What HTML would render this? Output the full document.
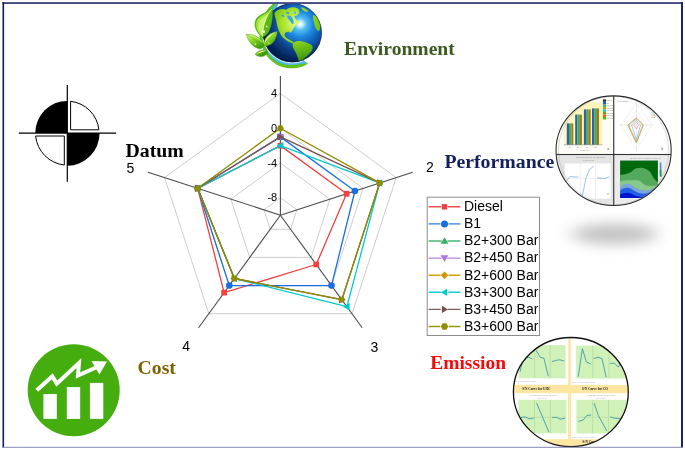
<!DOCTYPE html>
<html lang="en"><head><meta charset="utf-8"><title>Radar comparison</title>
<style>
html,body{margin:0;padding:0;background:#fff;}
body{width:685px;height:450px;overflow:hidden;}
svg{display:block;}
.sans{font-family:"Liberation Sans",sans-serif;}
.serif{font-family:"Liberation Serif",serif;font-weight:bold;}
</style></head><body>
<svg width="685" height="450" viewBox="0 0 685 450">
<rect x="0" y="0" width="685" height="450" fill="#fff"/>
<!-- labels -->
<text x="344.1" y="55.4" class="serif" font-size="19.6" fill="#3a5a1e">Environment</text>
<text x="444.4" y="168.1" class="serif" font-size="19.8" fill="#14205e">Performance</text>
<text x="430.2" y="369.3" class="serif" font-size="19.5" fill="#fa0808">Emission</text>
<text x="137.6" y="374" class="serif" font-size="19.7" fill="#7f6000">Cost</text>
<text x="125.6" y="157" class="serif" font-size="19.75" fill="#000">Datum</text>

<polygon points="280.4,197.8 296.9,209.8 290.6,229.3 270.2,229.3 263.9,209.8" fill="none" stroke="#b9b9b9" stroke-width="0.7"/>
<polygon points="280.4,163.0 330.0,199.1 311.1,257.4 249.7,257.4 230.8,199.1" fill="none" stroke="#b9b9b9" stroke-width="0.7"/>
<polygon points="280.4,128.2 363.1,188.3 331.5,285.6 229.3,285.6 197.7,188.3" fill="none" stroke="#b9b9b9" stroke-width="0.7"/>
<polygon points="280.4,93.4 396.2,177.6 352.0,313.7 208.8,313.7 164.6,177.6" fill="none" stroke="#b9b9b9" stroke-width="0.7"/>
<line x1="280.4" y1="215.2" x2="280.4" y2="76.0" stroke="#4a4a4a" stroke-width="1.1"/>
<line x1="280.4" y1="215.2" x2="412.8" y2="172.2" stroke="#4a4a4a" stroke-width="1.1"/>
<line x1="280.4" y1="215.2" x2="362.2" y2="327.8" stroke="#4a4a4a" stroke-width="1.1"/>
<line x1="280.4" y1="215.2" x2="198.6" y2="327.8" stroke="#4a4a4a" stroke-width="1.1"/>
<line x1="280.4" y1="215.2" x2="148.0" y2="172.2" stroke="#4a4a4a" stroke-width="1.1"/>
<polygon points="280.4,145.6 346.6,193.7 316.2,264.5 224.1,292.6 197.7,188.3" fill="none" stroke="#F14040" stroke-width="1.3" stroke-linejoin="round"/>
<rect x="277.6" y="142.8" width="5.7" height="5.7" fill="#F14040"/>
<rect x="343.8" y="190.9" width="5.7" height="5.7" fill="#F14040"/>
<rect x="313.4" y="261.6" width="5.7" height="5.7" fill="#F14040"/>
<rect x="221.3" y="289.8" width="5.7" height="5.7" fill="#F14040"/>
<rect x="194.8" y="185.5" width="5.7" height="5.7" fill="#F14040"/>
<polygon points="280.4,136.9 354.9,191.0 331.5,285.6 229.3,285.6 197.7,188.3" fill="none" stroke="#1A6FDF" stroke-width="1.3" stroke-linejoin="round"/>
<circle cx="280.4" cy="136.9" r="3.3" fill="#1A6FDF"/>
<circle cx="354.9" cy="191.0" r="3.3" fill="#1A6FDF"/>
<circle cx="331.5" cy="285.6" r="3.3" fill="#1A6FDF"/>
<circle cx="229.3" cy="285.6" r="3.3" fill="#1A6FDF"/>
<circle cx="197.7" cy="188.3" r="3.3" fill="#1A6FDF"/>
<polygon points="280.4,140.6 284.1,134.2 276.7,134.2" fill="#B177DE"/>
<polygon points="280.4,145.6 379.7,182.9 346.9,306.7 234.4,278.5 197.7,188.3" fill="none" stroke="#00CBCC" stroke-width="1.3" stroke-linejoin="round"/>
<polygon points="276.7,145.6 283.1,141.9 283.1,149.3" fill="#00CBCC"/>
<polygon points="376.0,182.9 382.4,179.2 382.4,186.7" fill="#00CBCC"/>
<polygon points="343.1,306.7 349.6,303.0 349.6,310.4" fill="#00CBCC"/>
<polygon points="230.6,278.5 237.1,274.8 237.1,282.3" fill="#00CBCC"/>
<polygon points="193.9,188.3 200.4,184.6 200.4,192.1" fill="#00CBCC"/>
<polygon points="280.4,136.9 379.7,182.9 341.8,299.7 234.4,278.5 197.7,188.3" fill="none" stroke="#7D4E4E" stroke-width="1.3" stroke-linejoin="round"/>
<polygon points="284.1,136.9 277.7,133.2 277.7,140.6" fill="#7D4E4E"/>
<polygon points="383.4,182.9 377.0,179.2 377.0,186.7" fill="#7D4E4E"/>
<polygon points="345.5,299.7 339.0,295.9 339.0,303.4" fill="#7D4E4E"/>
<polygon points="238.1,278.5 231.7,274.8 231.7,282.3" fill="#7D4E4E"/>
<polygon points="201.4,188.3 194.9,184.6 194.9,192.1" fill="#7D4E4E"/>
<polygon points="280.4,128.2 379.7,182.9 341.8,299.7 234.4,278.5 197.7,188.3" fill="none" stroke="#8E8E00" stroke-width="1.3" stroke-linejoin="round"/>
<polygon points="283.8,128.2 282.1,131.2 278.7,131.2 277.0,128.2 278.7,125.2 282.1,125.2" fill="#8E8E00"/>
<polygon points="383.1,182.9 381.4,185.9 378.0,185.9 376.3,182.9 378.0,180.0 381.4,180.0" fill="#8E8E00"/>
<polygon points="345.2,299.7 343.5,302.6 340.1,302.6 338.4,299.7 340.1,296.7 343.5,296.7" fill="#8E8E00"/>
<polygon points="237.8,278.5 236.1,281.5 232.7,281.5 231.0,278.5 232.7,275.6 236.1,275.6" fill="#8E8E00"/>
<polygon points="201.1,188.3 199.4,191.3 196.0,191.3 194.2,188.3 196.0,185.4 199.4,185.4" fill="#8E8E00"/>
<text x="277.2" y="96.9" text-anchor="end" class="sans" font-size="11">4</text>
<text x="277.2" y="131.7" text-anchor="end" class="sans" font-size="11">0</text>
<text x="277.2" y="166.5" text-anchor="end" class="sans" font-size="11">-4</text>
<text x="277.2" y="201.3" text-anchor="end" class="sans" font-size="11">-8</text>
<text x="126.4" y="172.5" class="sans" font-size="14">5</text>
<text x="426" y="172.4" class="sans" font-size="14">2</text>
<text x="370.6" y="351.6" class="sans" font-size="14">3</text>
<text x="182.2" y="351.4" class="sans" font-size="14">4</text>
<rect x="427.2" y="197.2" width="112.3" height="138.3" fill="#fff" stroke="#8c8c8c" stroke-width="1"/>
<line x1="428.6" y1="206.8" x2="460.4" y2="206.8" stroke="#F14040" stroke-width="1.4" stroke-opacity="0.92"/>
<rect x="441.2" y="205.3" width="6.6" height="3" fill="#fff"/>
<rect x="441.8" y="204.1" width="5.4" height="5.4" fill="#F14040"/>
<text x="464" y="211.1" class="sans" font-size="14">Diesel</text>
<line x1="428.6" y1="223.9" x2="460.4" y2="223.9" stroke="#1A6FDF" stroke-width="1.4" stroke-opacity="0.92"/>
<rect x="440.5" y="222.4" width="8.0" height="3" fill="#fff"/>
<circle cx="444.5" cy="223.9" r="3.5" fill="#1A6FDF"/>
<text x="464" y="228.2" class="sans" font-size="14">B1</text>
<line x1="428.6" y1="241.0" x2="460.4" y2="241.0" stroke="#37AD6B" stroke-width="1.4" stroke-opacity="0.92"/>
<rect x="441.7" y="239.5" width="5.6" height="3" fill="#fff"/>
<polygon points="444.5,237.2 448.4,243.8 440.6,243.8" fill="#37AD6B"/>
<text x="464" y="245.3" class="sans" font-size="14">B2+300 Bar</text>
<line x1="428.6" y1="258.1" x2="460.4" y2="258.1" stroke="#B177DE" stroke-width="1.4" stroke-opacity="0.92"/>
<rect x="441.7" y="256.6" width="5.6" height="3" fill="#fff"/>
<polygon points="444.5,262.0 448.4,255.3 440.6,255.3" fill="#B177DE"/>
<text x="464" y="262.4" class="sans" font-size="14">B2+450 Bar</text>
<line x1="428.6" y1="275.2" x2="460.4" y2="275.2" stroke="#CC9900" stroke-width="1.4" stroke-opacity="0.92"/>
<rect x="440.6" y="273.7" width="7.8" height="3" fill="#fff"/>
<polygon points="444.5,271.4 448.3,275.2 444.5,279.0 440.7,275.2" fill="#CC9900"/>
<text x="464" y="279.5" class="sans" font-size="14">B2+600 Bar</text>
<line x1="428.6" y1="292.3" x2="460.4" y2="292.3" stroke="#00CBCC" stroke-width="1.4" stroke-opacity="0.92"/>
<rect x="441.1" y="290.8" width="7.2" height="3" fill="#fff"/>
<polygon points="440.9,292.3 447.1,288.7 447.1,295.9" fill="#00CBCC"/>
<text x="464" y="296.6" class="sans" font-size="14">B3+300 Bar</text>
<line x1="428.6" y1="309.4" x2="460.4" y2="309.4" stroke="#7D4E4E" stroke-width="1.4" stroke-opacity="0.92"/>
<rect x="440.7" y="307.9" width="7.2" height="3" fill="#fff"/>
<polygon points="448.1,309.4 441.9,305.8 441.9,313.0" fill="#7D4E4E"/>
<text x="464" y="313.7" class="sans" font-size="14">B3+450 Bar</text>
<line x1="428.6" y1="326.5" x2="460.4" y2="326.5" stroke="#8E8E00" stroke-width="1.4" stroke-opacity="0.92"/>
<rect x="440.3" y="325.0" width="8.4" height="3" fill="#fff"/>
<polygon points="448.2,326.5 446.4,329.7 442.6,329.7 440.8,326.5 442.6,323.3 446.4,323.3" fill="#8E8E00"/>
<text x="464" y="330.8" class="sans" font-size="14">B3+600 Bar</text>
<!-- datum symbol -->
<g>
<path d="M67.3 132.9 L35.3 132.9 A32 32 0 0 1 67.3 100.9 Z" fill="#000"/>
<path d="M67.3 132.9 L99.6 132.9 A32.4 32.8 0 0 1 67.3 165.7 Z" fill="#000"/>
<path d="M70.6 129.8 L70.6 101.3 A32 32 0 0 1 98.9 129.8 Z" fill="#fff" stroke="#000" stroke-width="1"/>
<path d="M64.3 136 L64.3 165 A32.3 32.5 0 0 1 35.6 136 Z" fill="#fff" stroke="#000" stroke-width="1"/>
<line x1="18.8" y1="133.2" x2="116.2" y2="133.2" stroke="#000" stroke-width="1.2"/>
<line x1="67.3" y1="85" x2="67.3" y2="181.8" stroke="#000" stroke-width="1.2"/>
</g>

<!-- globe -->
<defs>
<radialGradient id="gg" cx="395" cy="155" r="340" fx="395" fy="155" gradientUnits="userSpaceOnUse">
<stop offset="0" stop-color="#ffffff"/><stop offset="0.045" stop-color="#d4f5ff"/><stop offset="0.13" stop-color="#52bcf4"/><stop offset="0.26" stop-color="#1f8ade"/><stop offset="0.42" stop-color="#1060b6"/><stop offset="0.58" stop-color="#093c82"/><stop offset="0.76" stop-color="#052256"/><stop offset="1" stop-color="#02103a"/>
</radialGradient>
<radialGradient id="lg" cx="360" cy="150" r="320" gradientUnits="userSpaceOnUse">
<stop offset="0" stop-color="#e2fa7a"/><stop offset="0.3" stop-color="#a4e02a"/><stop offset="0.6" stop-color="#62b814"/><stop offset="0.85" stop-color="#3b8f0e"/><stop offset="1" stop-color="#2a700a"/>
</radialGradient>
<linearGradient id="lf1" x1="80" y1="150" x2="190" y2="170" gradientUnits="userSpaceOnUse"><stop offset="0" stop-color="#4aa812"/><stop offset="0.35" stop-color="#9be030"/><stop offset="0.6" stop-color="#c4f25a"/><stop offset="1" stop-color="#58b616"/></linearGradient>
<linearGradient id="lf2" x1="60" y1="225" x2="100" y2="320" gradientUnits="userSpaceOnUse"><stop offset="0" stop-color="#c8f462"/><stop offset="0.45" stop-color="#86d424"/><stop offset="1" stop-color="#3f9e10"/></linearGradient>
<linearGradient id="lf3" x1="150" y1="230" x2="210" y2="300" gradientUnits="userSpaceOnUse"><stop offset="0" stop-color="#d2f86c"/><stop offset="0.5" stop-color="#84d222"/><stop offset="1" stop-color="#3c9a0e"/></linearGradient>
<clipPath id="gc"><circle cx="340" cy="216" r="207"/></clipPath>
<filter id="gb" x="-10%" y="-10%" width="120%" height="120%"><feGaussianBlur stdDeviation="2"/></filter>
</defs>
<g transform="translate(244 2) scale(0.14225)" filter="url(#gb)">
<!-- swoosh -->
<path d="M212.0 6.0 C203.3 15.0 175.0 37.7 160.0 60.0 C145.0 82.3 130.3 108.3 122.0 140.0 C113.7 171.7 108.7 220.0 110.0 250.0 C111.3 280.0 120.8 297.5 130.0 320.0 C139.2 342.5 148.2 364.8 165.0 385.0 C181.8 405.2 206.3 427.7 231.0 441.0 C255.7 454.3 285.7 462.0 313.0 465.0 C340.3 468.0 372.2 464.2 395.0 459.0 C417.8 453.8 440.8 438.2 450.0 434.0 L400 395 L300 395 L200 330 L175 210 L240 10 Z" fill="#62c21e"/>
<path d="M230.0 8.0 C221.7 18.3 193.7 46.3 180.0 70.0 C166.3 93.7 154.7 121.7 148.0 150.0 C141.3 178.3 139.3 212.5 140.0 240.0 C140.7 267.5 145.3 293.0 152.0 315.0 C158.7 337.0 165.7 353.8 180.0 372.0 C194.3 390.2 215.8 412.2 238.0 424.0 C260.2 435.8 287.7 440.7 313.0 443.0 C338.3 445.3 368.5 440.2 390.0 438.0 C411.5 435.8 433.3 431.3 442.0 430.0 L400 395 L300 395 L200 330 L175 210 L240 10 Z" fill="#4fb8ee"/>
<path d="M412.2 414.3 A211 211 0 0 1 133.6 259.9" fill="none" stroke="#dfe9f0" stroke-width="8" stroke-linecap="round"/>
<circle cx="340" cy="216" r="207" fill="url(#gg)"/>
<g clip-path="url(#gc)" fill="url(#lg)">
<path d="M214 76 C232 56 260 42 298 54 C316 38 350 28 386 52 C394 72 388 92 354 100 C360 120 372 132 390 140 C372 158 354 168 340 200 C334 214 322 222 316 208 C308 212 296 212 288 218 C280 236 292 250 314 262 C332 270 346 280 354 292 C330 292 298 276 270 246 C248 218 234 180 226 130 C222 110 212 94 214 76 Z"/>
<path d="M304 98 C318 90 338 102 344 122 C352 138 352 152 344 156 C332 150 322 134 314 122 C308 114 302 106 304 98 Z" fill="#3aa8ea"/>
<path d="M262 92 C272 86 284 92 282 102 C272 108 264 102 262 92 Z" fill="#2f98e0"/>
<path d="M350 70 C358 64 368 70 366 82 C358 88 352 80 350 70 Z" fill="#48b4f0"/>
<path d="M296 70 C310 64 322 70 318 84 C306 90 298 82 296 70 Z" fill="#3aa4e6"/>
<path d="M345 286 C372 268 410 272 446 288 C472 296 488 306 482 330 C472 358 448 374 424 398 C410 412 392 422 384 414 C380 386 366 358 352 334 C342 316 338 300 345 286 Z"/>
<path d="M486 92 C506 96 524 112 534 150 C540 180 536 202 524 204 C508 200 498 170 492 140 C486 120 482 104 486 92 Z"/>
<path d="M398 38 C420 36 442 50 452 66 C436 72 414 62 398 38 Z"/>
</g>
<circle cx="340" cy="216" r="205" fill="none" stroke="#020f30" stroke-opacity="0.5" stroke-width="6"/>
<!-- leaves -->
<path d="M130 246 C95 226 68 180 80 134 C92 95 140 80 175 62 C185 56 192 50 198 42 C206 90 198 150 180 196 C170 220 152 238 130 246 Z" fill="#5cb818" stroke="#3a9a10" stroke-width="3"/>
<path d="M130 244 C100 222 78 180 88 138 C100 100 150 88 192 52 C160 100 136 170 130 244 Z" fill="#a6e63c"/>
<path d="M132 240 C112 216 96 186 104 150 C110 124 140 104 170 84 C146 130 132 180 132 240 Z" fill="#d0f676" fill-opacity="0.8"/>
<path d="M131 244 C126 180 150 110 195 48" fill="none" stroke="#f0ffc0" stroke-width="5"/>
<path d="M140 302 C120 255 75 220 16 228 C30 277 60 318 106 328 C126 330 137 318 140 302 Z" fill="url(#lf2)" stroke="#3a9a10" stroke-width="3"/>
<path d="M138 296 C110 262 70 236 24 230 C60 232 108 250 138 296 Z" fill="#e0fb90"/>
<path d="M140 300 C105 286 66 258 24 232" fill="none" stroke="#2f8a0c" stroke-opacity="0.55" stroke-width="4"/>
<path d="M142 304 C136 258 170 220 234 206 C230 256 206 298 166 308 C156 310 148 308 142 304 Z" fill="url(#lf3)" stroke="#3a9a10" stroke-width="3"/>
<path d="M144 298 C144 262 176 228 228 210 C190 232 160 262 144 298 Z" fill="#e0fb90"/>
<path d="M144 302 C162 264 192 234 230 210" fill="none" stroke="#2f8a0c" stroke-opacity="0.5" stroke-width="4"/>
<path d="M160 338 C130 328 94 344 78 368 C104 394 146 386 166 358 Z" fill="url(#lf3)" stroke="#3a9a10" stroke-width="3"/>
<path d="M156 342 C130 336 100 350 84 368 C110 356 136 350 156 342 Z" fill="#e0fb90"/>
<ellipse cx="138" cy="208" rx="10" ry="12" fill="#f8ffe4" fill-opacity="0.9"/>
<circle cx="160" cy="172" r="6" fill="#f8ffe4" fill-opacity="0.85"/>
<circle cx="80" cy="296" r="6" fill="#f8ffe4" fill-opacity="0.8"/>
<circle cx="176" cy="290" r="5" fill="#f8ffe4" fill-opacity="0.7"/>
</g>

<!-- cost icon -->
<g>
<circle cx="73.7" cy="390.2" r="46" fill="#45ad0d"/>
<rect x="43.4" y="394" width="13.4" height="24.9" fill="#fff"/>
<rect x="66.8" y="387.1" width="13.4" height="31.8" fill="#fff"/>
<rect x="89.9" y="382.9" width="13.4" height="36" fill="#fff"/>
<polyline points="36.8,390.2 52.3,376.3 56.8,383.6 79,363 77.9,375.6 96,367.5" fill="none" stroke="#fff" stroke-width="4" stroke-linejoin="miter"/>
<polygon points="91.4,361 107,361.4 99.4,374.6" fill="#fff"/>
</g>

<!-- performance circle -->
<defs>
<clipPath id="pc"><ellipse cx="613.6" cy="150.65" rx="57.6" ry="54.75"/></clipPath>
<filter id="sh" x="-50%" y="-150%" width="200%" height="400%"><feGaussianBlur stdDeviation="9 6.5"/></filter>
<filter id="b1" x="-10%" y="-10%" width="120%" height="120%"><feGaussianBlur stdDeviation="0.35"/></filter>
</defs>
<ellipse cx="614.5" cy="234" rx="43" ry="10.5" fill="#c3c3c3" filter="url(#sh)"/>
<g clip-path="url(#pc)">
<rect x="550" y="90" width="130" height="125" fill="#fff"/>
<g filter="url(#b1)">
<!-- TL bar chart -->
<rect x="556" y="95" width="57" height="58.5" fill="#fdfdf6"/>
<rect x="563.8" y="102" width="38.4" height="42.8" fill="#fbf4bf"/>
<g>
<rect x="566.8" y="123.4" width="2.2" height="21.4" fill="#2a62b0"/><rect x="569" y="123.4" width="2.4" height="21.4" fill="#4ea860"/><rect x="571.4" y="123.4" width="1.9" height="21.4" fill="#a8780c"/>
<rect x="575.2" y="114.6" width="2.2" height="30.2" fill="#2a62b0"/><rect x="577.4" y="114.6" width="2.5" height="30.2" fill="#4ea860"/><rect x="579.9" y="114.6" width="2" height="30.2" fill="#a8780c"/>
<rect x="583.9" y="109.4" width="2.2" height="35.4" fill="#2a62b0"/><rect x="586.1" y="109.4" width="2.6" height="35.4" fill="#4ea860"/><rect x="588.7" y="109.4" width="2" height="35.4" fill="#a8780c"/>
<rect x="592" y="108.4" width="2.3" height="36.4" fill="#2a62b0"/><rect x="594.3" y="108.4" width="2.7" height="36.4" fill="#4ea860"/><rect x="597" y="108.4" width="2" height="36.4" fill="#a8780c"/>
</g>
<line x1="563.8" y1="144.8" x2="602.2" y2="144.8" stroke="#777" stroke-width="0.5"/>
<g>
<rect x="602.9" y="99.3" width="3.1" height="2.5" fill="#333"/><rect x="602.9" y="101.8" width="3.1" height="2.5" fill="#1f5fc4"/><rect x="602.9" y="104.3" width="3.1" height="2.6" fill="#3fae6d"/><rect x="602.9" y="106.9" width="3.1" height="2.5" fill="#cc9a10"/><rect x="602.9" y="109.4" width="3.1" height="2.5" fill="#1cc3c4"/><rect x="602.9" y="111.9" width="3.1" height="2.6" fill="#8b8f10"/><rect x="602.9" y="114.5" width="3.1" height="2.5" fill="#f0641e"/><rect x="602.9" y="117" width="3.1" height="2.5" fill="#60b010"/>
</g>
<text x="606.4" y="101.2" class="sans" font-size="1.9" fill="#8a8a8a">Diesel</text><text x="606.4" y="103.7" class="sans" font-size="1.9" fill="#8a8a8a">B1</text><text x="606.4" y="106.3" class="sans" font-size="1.9" fill="#8a8a8a">B2+300</text><text x="606.4" y="108.8" class="sans" font-size="1.9" fill="#8a8a8a">B2+450</text><text x="606.4" y="111.3" class="sans" font-size="1.9" fill="#8a8a8a">B2+600</text><text x="606.4" y="113.8" class="sans" font-size="1.9" fill="#8a8a8a">B3+300</text><text x="606.4" y="116.4" class="sans" font-size="1.9" fill="#8a8a8a">B3+450</text><text x="606.4" y="118.9" class="sans" font-size="1.9" fill="#8a8a8a">B3+600</text>
<text x="568.6" y="147.6" class="sans" font-size="2" fill="#8a8a8a">25</text><text x="577.0" y="147.6" class="sans" font-size="2" fill="#8a8a8a">50</text><text x="585.8" y="147.6" class="sans" font-size="2" fill="#8a8a8a">75</text><text x="593.6" y="147.6" class="sans" font-size="2" fill="#8a8a8a">100</text>
<text x="580" y="150.6" class="sans" font-size="2.4" fill="#8c8c8c">Load (%)</text>
<text x="607.5" y="149.5" class="sans" font-size="3" fill="#444">a</text>
<!-- TR radar -->
<g fill="none" stroke-width="0.4">
<polygon points="636.4,103.5 652,125 636.4,150 620.8,125" stroke="#dcdcdc"/>
<polygon points="636.4,110.5 647,125 636.4,142 625.8,125" stroke="#e2e2e2"/>
<line x1="619" y1="125" x2="654" y2="125" stroke="#cfcfcf"/>
<line x1="636.4" y1="101" x2="636.4" y2="152" stroke="#cfcfcf"/>
<polygon points="636.4,118 643.4,125 636.4,142.9 627.9,125" stroke="#9a9420" stroke-width="0.7"/>
<polygon points="636.4,119 642.6,125 636.4,141.5 628.8,125" stroke="#c9a030" stroke-width="0.5"/>
<polygon points="636.4,120.5 640.5,125 636.4,139.5 631.5,125" stroke="#4f9be0" stroke-width="0.5"/>
<polygon points="636.4,122.5 638.5,125 636.4,129 633.6,125" stroke="#e86a6a" stroke-width="0.5"/>
</g>
<text x="617" y="101.8" class="sans" font-size="2.2" fill="#8c8c8c">Performance</text>
<g stroke-width="0.5"><line x1="651" y1="113" x2="655" y2="113" stroke="#4fc8d8"/><line x1="651" y1="115.2" x2="655" y2="115.2" stroke="#9a9420"/><line x1="651" y1="117.4" x2="655" y2="117.4" stroke="#c9a030"/></g>
<text x="661.5" y="149.5" class="sans" font-size="3" fill="#444">b</text>
<!-- BL main effects -->
<rect x="556" y="154.8" width="57.3" height="52" fill="#e4e4e4"/>
<rect x="564.8" y="163.4" width="45.9" height="35.3" fill="#fff"/>
<g stroke="#d4d4d4" stroke-width="0.4"><line x1="580.2" y1="163.4" x2="580.2" y2="198.7"/><line x1="595.4" y1="163.4" x2="595.4" y2="198.7"/><line x1="564.8" y1="178.4" x2="610.7" y2="178.4"/></g>
<g fill="none" stroke="#5b9be0" stroke-width="0.6">
<polyline points="566.5,181 570.5,176.4 574.5,177 578.5,177"/>
<polyline points="582,198 585.8,178.8 589.5,169.4 593.6,166.4"/>
<polyline points="597,178 601,178.2 605,178.6 609.5,176.6"/>
</g>
<text x="575.8" y="158.2" class="sans" font-size="2.2" fill="#8c8c8c">Main Effects Plot for SN ratios</text>
<text x="583.3" y="160.6" class="sans" font-size="2" fill="#9a9a9a">Data Means</text>
<text x="607.5" y="194.5" class="sans" font-size="3" fill="#444">c</text>
<!-- BR contour -->
<rect x="614.3" y="154.8" width="60" height="52" fill="#ececec"/>
<g transform="translate(610 145) scale(0.15552)">
<rect x="65" y="100" width="243" height="240" fill="#04690f"/>
<path d="M65 192 C100 188 130 182 150 160 C175 138 235 140 262 178 C280 215 295 232 308 238 L308 340 L65 340 Z" fill="#53a95c"/>
<path d="M65 232 C100 222 140 228 180 226 C205 232 210 255 240 262 C270 268 295 262 308 255 L308 340 L65 340 Z" fill="#86c98b"/>
<path d="M65 270 C85 250 115 240 145 262 C170 282 195 292 230 292 C262 290 285 278 308 262 L308 340 L65 340 Z" fill="#78a5dc"/>
<path d="M65 292 C85 276 115 266 145 288 C170 306 195 316 230 312 C262 306 285 298 308 282 L308 340 L65 340 Z" fill="#2460e2"/>
<path d="M65 318 C85 306 115 300 145 316 C170 328 195 336 230 334 C262 332 285 330 308 322 L308 340 L65 340 Z" fill="#0617cf"/>
</g>
<rect x="659.8" y="162.6" width="1.6" height="14" fill="#5a86d8"/>
<rect x="659.8" y="170" width="1.6" height="6.6" fill="#2f9a44"/>
<text x="630" y="158.6" class="sans" font-size="2.2" fill="#8c8c8c">Contour Plot of BTE vs Load, IP</text>
</g>
<!-- dividers -->
<ellipse cx="613.6" cy="150.65" rx="55.2" ry="54.4" fill="none" stroke="#9a9a9a" stroke-width="0.5" stroke-opacity="0.7"/>
<rect x="556" y="153.95" width="118" height="1.1" fill="#333"/>
<rect x="613.2" y="95" width="1.1" height="112" fill="#2a2a2a"/>
</g>
<ellipse cx="613.6" cy="150.65" rx="57.6" ry="54.75" fill="none" stroke="#262626" stroke-width="1.05"/>

<!-- emission circle -->
<defs><clipPath id="ec"><ellipse cx="570.85" cy="392.05" rx="57.45" ry="54.55"/></clipPath></defs>
<g clip-path="url(#ec)">
<rect x="510" y="335" width="125" height="115" fill="#fde6a2"/>
<g filter="url(#b1)">
<rect x="512" y="336" width="56.2" height="48.8" fill="#fff"/>
<rect x="570.9" y="336" width="62" height="48.9" fill="#fff"/>
<rect x="512" y="393.2" width="56" height="46" fill="#fff"/>
<rect x="571.1" y="393.2" width="62" height="46" fill="#fff"/>
<rect x="518.7" y="345.1" width="46.9" height="33.2" fill="#d0f1b8"/>
<rect x="576.2" y="345.6" width="50" height="32.9" fill="#d0f1b8"/>
<rect x="518.5" y="399.8" width="47.9" height="33.6" fill="#d0f1b8"/>
<rect x="576.4" y="399.8" width="50" height="33.6" fill="#d0f1b8"/>
<line x1="534.6" y1="345.1" x2="534.6" y2="378.3" stroke="#9cc48a" stroke-width="0.4"/>
<line x1="550.2" y1="345.1" x2="550.2" y2="378.3" stroke="#9cc48a" stroke-width="0.4"/>
<line x1="592.8" y1="345.6" x2="592.8" y2="378.5" stroke="#9cc48a" stroke-width="0.4"/>
<line x1="609.0" y1="345.6" x2="609.0" y2="378.5" stroke="#9cc48a" stroke-width="0.4"/>
<line x1="534.5" y1="399.8" x2="534.5" y2="433.4" stroke="#9cc48a" stroke-width="0.4"/>
<line x1="550.4" y1="399.8" x2="550.4" y2="433.4" stroke="#9cc48a" stroke-width="0.4"/>
<line x1="592.6" y1="399.8" x2="592.6" y2="433.4" stroke="#9cc48a" stroke-width="0.4"/>
<line x1="608.6" y1="399.8" x2="608.6" y2="433.4" stroke="#9cc48a" stroke-width="0.4"/>
<line x1="518.5" y1="417.3" x2="566.4" y2="417.3" stroke="#a9cf98" stroke-width="0.4"/>
<line x1="576.4" y1="417.3" x2="626.4" y2="417.3" stroke="#a9cf98" stroke-width="0.4"/>
<polyline points="520.1,371.8 522.3,361.7 528.1,357.0 532.4,358.8" fill="none" stroke="#2f8fae" stroke-width="0.8"/>
<polyline points="536.0,350.2 540.3,357.4 543.9,358.1 548.3,376.2" fill="none" stroke="#2f8fae" stroke-width="0.8"/>
<polyline points="551.9,361.7 556.2,360.3 559.8,359.8 564.2,361.0" fill="none" stroke="#2f8fae" stroke-width="0.8"/>
<polyline points="578.2,376.7 582.4,348.7 586.5,362.2 590.7,363.8" fill="none" stroke="#2f8fae" stroke-width="0.8"/>
<polyline points="593.8,358.6 598.0,357.2 602.0,358.6 606.2,377.3" fill="none" stroke="#2f8fae" stroke-width="0.8"/>
<polyline points="610.1,363.3 614.5,363.3 618.2,366.9 621.0,363.0" fill="none" stroke="#2f8fae" stroke-width="0.8"/>
<polyline points="520.4,417.6 525.2,416.9 529.0,418.8 533.7,418.2" fill="none" stroke="#2f8fae" stroke-width="0.8"/>
<polyline points="536.6,403.0 548.9,432.1" fill="none" stroke="#2f8fae" stroke-width="0.8"/>
<polyline points="552.1,417.6 556.5,417.3 560.3,419.2 565.0,418.2" fill="none" stroke="#2f8fae" stroke-width="0.8"/>
<polyline points="578.3,421.4 583.1,420.1 586.9,415.4 591.2,415.0" fill="none" stroke="#2f8fae" stroke-width="0.8"/>
<polyline points="594.1,403.0 598.3,415.4 606.8,430.9" fill="none" stroke="#2f8fae" stroke-width="0.8"/>
<polyline points="610.2,416.9 614.4,418.2 620.1,418.8 625.8,418.4" fill="none" stroke="#2f8fae" stroke-width="0.8"/>
<text x="522.2" y="390.4" class="serif" font-size="3.35" fill="#222">S/N Curve for UHC</text>
<text x="582" y="389.9" class="serif" font-size="3.35" fill="#222">S/N Curve for CO</text>
<text x="582.6" y="443.4" class="serif" font-size="3.35" fill="#222">S/N Curve for NOx</text>
<text x="529.6" y="396.4" class="sans" font-size="2.1" fill="#a8a8a8">Main Effects Plot for SN ratios</text>
<text x="537.4" y="398.6" class="sans" font-size="1.8" fill="#bbb">Data Means</text>
<text x="587.6" y="396.4" class="sans" font-size="2.1" fill="#a8a8a8">Main Effects Plot for SN ratios</text>
<text x="595.4" y="398.6" class="sans" font-size="1.8" fill="#bbb">Data Means</text>
<text x="513" y="382.4" class="sans" font-size="1.6" fill="#b0b0b0">Signal-to-noise: Smaller is better</text>
<text x="572" y="382.8" class="sans" font-size="1.6" fill="#b0b0b0">Signal-to-noise: Smaller is better</text>
<text x="572" y="438" class="sans" font-size="1.6" fill="#b0b0b0">Signal-to-noise: Smaller is better</text>
</g></g>
<ellipse cx="570.85" cy="392.05" rx="57.45" ry="54.55" fill="none" stroke="#111" stroke-width="1.3"/>
<!-- border -->
<rect x="2.4" y="2.1" width="680.6" height="1.9" fill="#454b83"/>
<rect x="2.5" y="2.1" width="1.6" height="445.6" fill="#131b5c"/>
<rect x="681" y="2.1" width="2" height="445.6" fill="#1c2566"/>
<rect x="2.5" y="446.8" width="680.5" height="1.05" fill="#8d8fb4"/>

</svg>
</body></html>
